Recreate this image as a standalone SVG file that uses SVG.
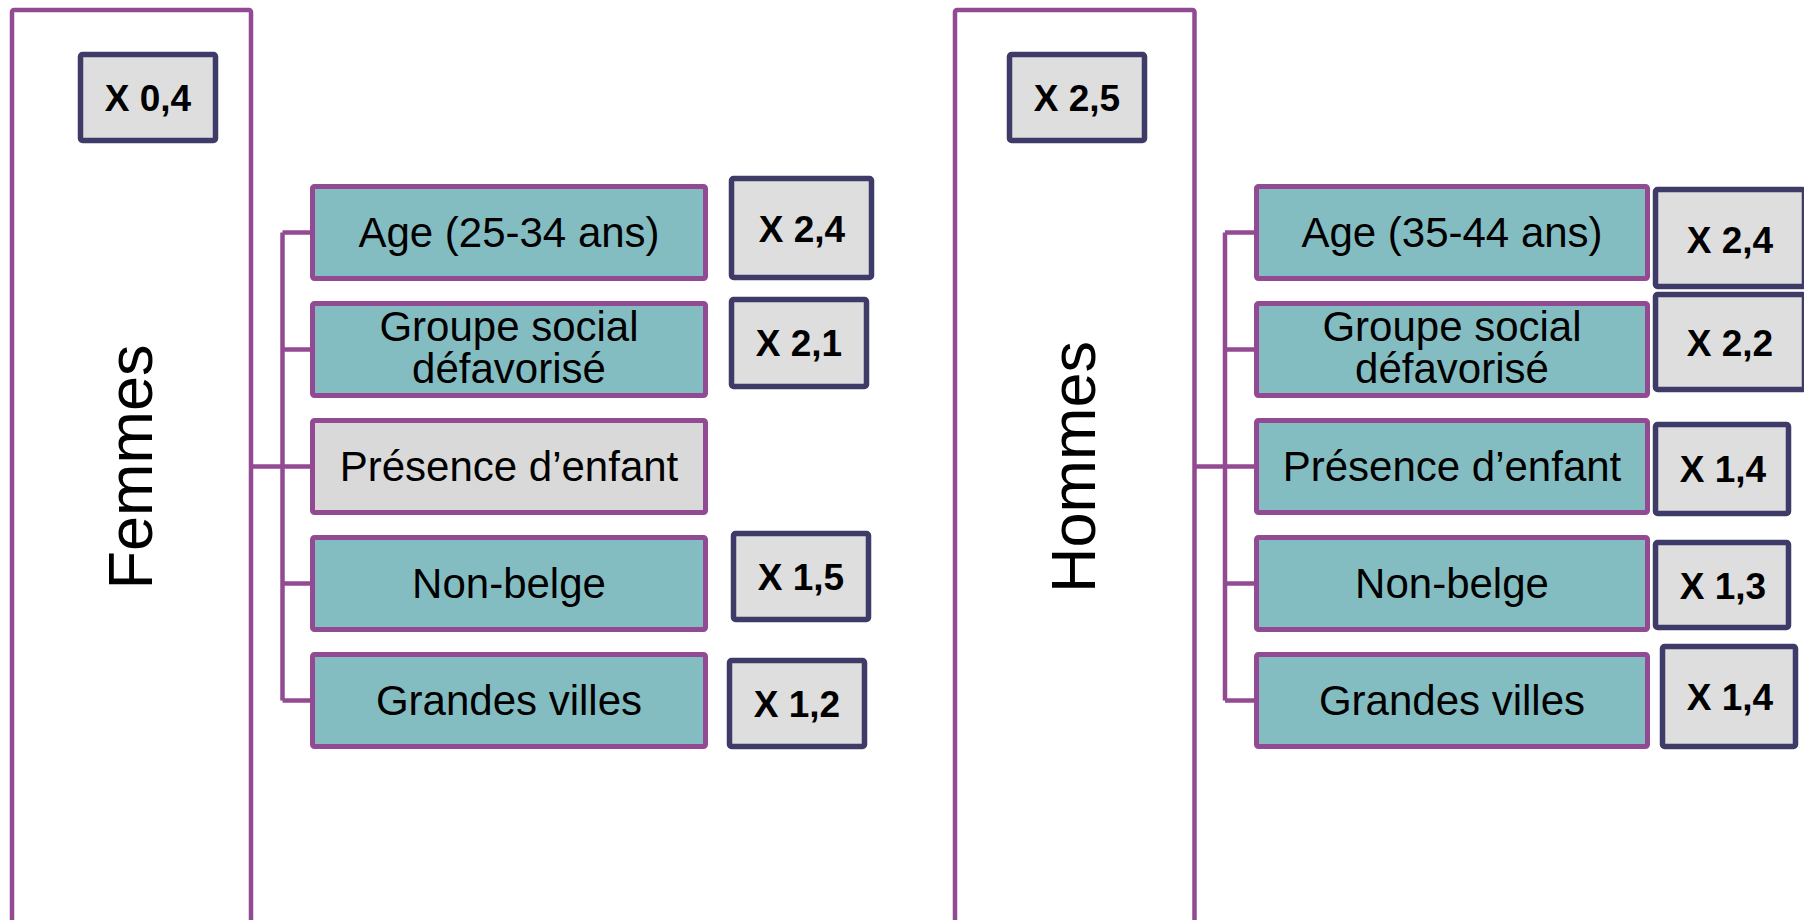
<svg xmlns="http://www.w3.org/2000/svg" width="1804" height="920" viewBox="0 0 1804 920">
<style>
.panel{fill:#ffffff;stroke:#924b93;stroke-width:4.5}
.cat{fill:#84bdc1;stroke:#924b93;stroke-width:5}
.catg{fill:#d9d9d9;stroke:#924b93;stroke-width:5}
.val{fill:#dedede;stroke:#3e3b68;stroke-width:5.5}
.lbl{font-family:"Liberation Sans",Arial,sans-serif;font-size:42px;fill:#000;text-anchor:middle}
.big{font-family:"Liberation Sans",Arial,sans-serif;font-size:63px;fill:#000;text-anchor:middle}
.num{font-family:"Liberation Sans",Arial,sans-serif;font-size:37px;font-weight:bold;fill:#000;text-anchor:middle}
.conn{fill:none;stroke:#924b93;stroke-width:4.5}
</style>
<rect width="1804" height="920" fill="#ffffff"/>
<g id="femmes">
<rect class="panel" x="12" y="10" width="239" height="1000" rx="2"/>
<text class="big" transform="translate(152,467) rotate(-90)">Femmes</text>
</g>
<g id="hommes">
<rect class="panel" x="955" y="10" width="239.5" height="1000" rx="2"/>
<text class="big" transform="translate(1095,467) rotate(-90)">Hommes</text>
</g>
<g id="connectors">
<path class="conn" d="M251 466.5H282.5M282.5 232.5V700.5M282.5 232.5H311M282.5 349.5H311M282.5 466.5H311M282.5 583.5H311M282.5 700.5H311"/>
<path class="conn" d="M1194 466.5H1225M1225 232.5V700.5M1225 232.5H1255M1225 349.5H1255M1225 466.5H1255M1225 583.5H1255M1225 700.5H1255"/>
</g>
<g id="f-total"><rect class="val" x="80.5" y="54.5" width="135" height="86" rx="2"/><text class="num" x="148" y="111">X 0,4</text></g>
<g id="h-total"><rect class="val" x="1009.5" y="54.5" width="135" height="86" rx="2"/><text class="num" x="1077" y="111">X 2,5</text></g>
<g id="f-age"><rect class="cat" x="312.5" y="186.5" width="393" height="92" rx="2"/><text class="lbl" x="509" y="246.5">Age (25-34 ans)</text></g>
<g id="f-groupe"><rect class="cat" x="312.5" y="303.5" width="393" height="92" rx="2"/><text class="lbl" x="509" y="341">Groupe social</text><text class="lbl" x="509" y="383">défavorisé</text></g>
<g id="f-presence"><rect class="catg" x="312.5" y="420.5" width="393" height="92" rx="2"/><text class="lbl" x="509" y="480.5">Présence d’enfant</text></g>
<g id="f-nonbelge"><rect class="cat" x="312.5" y="537.5" width="393" height="92" rx="2"/><text class="lbl" x="509" y="597.5">Non-belge</text></g>
<g id="f-villes"><rect class="cat" x="312.5" y="654.5" width="393" height="92" rx="2"/><text class="lbl" x="509" y="714.5">Grandes villes</text></g>
<g id="f-v-age"><rect class="val" x="731.5" y="178.5" width="140" height="99" rx="2"/><text class="num" x="802" y="241.5">X 2,4</text></g>
<g id="f-v-groupe"><rect class="val" x="731.5" y="299.5" width="135" height="87" rx="2"/><text class="num" x="799" y="356">X 2,1</text></g>
<g id="f-v-nonbelge"><rect class="val" x="733.5" y="533.5" width="135" height="86" rx="2"/><text class="num" x="801" y="590">X 1,5</text></g>
<g id="f-v-villes"><rect class="val" x="729.5" y="660.5" width="135" height="86" rx="2"/><text class="num" x="797" y="717">X 1,2</text></g>
<g id="h-age"><rect class="cat" x="1256.5" y="186.5" width="391" height="92" rx="2"/><text class="lbl" x="1452" y="246.5">Age (35-44 ans)</text></g>
<g id="h-groupe"><rect class="cat" x="1256.5" y="303.5" width="391" height="92" rx="2"/><text class="lbl" x="1452" y="341">Groupe social</text><text class="lbl" x="1452" y="383">défavorisé</text></g>
<g id="h-presence"><rect class="cat" x="1256.5" y="420.5" width="391" height="92" rx="2"/><text class="lbl" x="1452" y="480.5">Présence d’enfant</text></g>
<g id="h-nonbelge"><rect class="cat" x="1256.5" y="537.5" width="391" height="92" rx="2"/><text class="lbl" x="1452" y="597.5">Non-belge</text></g>
<g id="h-villes"><rect class="cat" x="1256.5" y="654.5" width="391" height="92" rx="2"/><text class="lbl" x="1452" y="714.5">Grandes villes</text></g>
<g id="h-v-age"><rect class="val" x="1655.5" y="189.5" width="149" height="97" rx="2"/><text class="num" x="1730" y="253">X 2,4</text></g>
<g id="h-v-groupe"><rect class="val" x="1655.5" y="294.5" width="149" height="95" rx="2"/><text class="num" x="1730" y="356">X 2,2</text></g>
<g id="h-v-presence"><rect class="val" x="1655.5" y="424.5" width="133" height="89" rx="2"/><text class="num" x="1723" y="482">X 1,4</text></g>
<g id="h-v-nonbelge"><rect class="val" x="1655.5" y="542.5" width="133" height="85" rx="2"/><text class="num" x="1723" y="598.5">X 1,3</text></g>
<g id="h-v-villes"><rect class="val" x="1662.5" y="646.5" width="133" height="100" rx="2"/><text class="num" x="1730" y="710">X 1,4</text></g>
</svg>
